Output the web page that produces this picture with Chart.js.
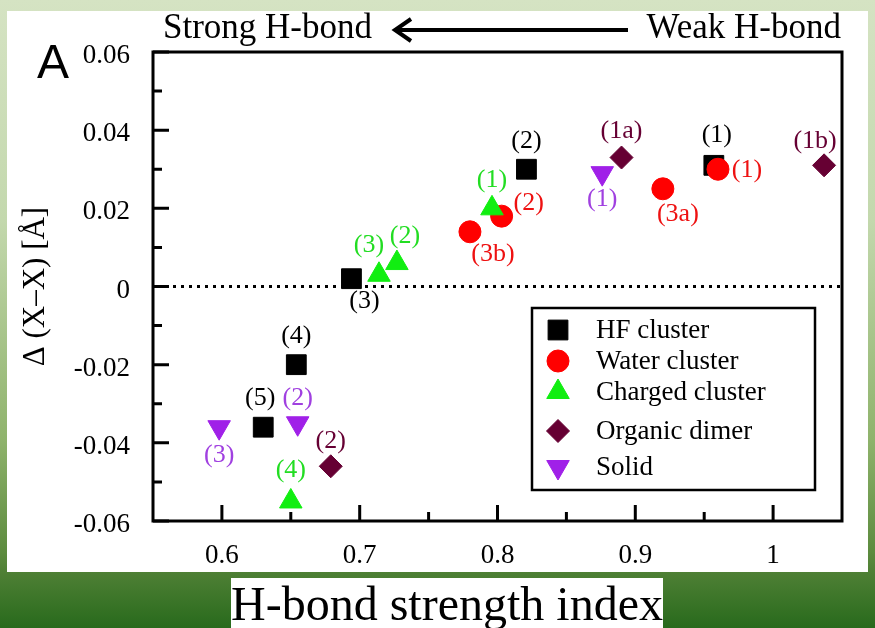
<!DOCTYPE html>
<html>
<head>
<meta charset="utf-8">
<script src="https://cdn.jsdelivr.net/npm/chart.js@4.4.1/dist/chart.umd.min.js"></script>
<style>
  html, body { margin: 0; padding: 0; }
  body {
    width: 875px; height: 628px; overflow: hidden; position: relative;
    background: linear-gradient(to bottom, #d5e3c3 0%, #c3d8ad 35%, #8fb36c 70%, #5c8b3e 88%, #4f8035 91%, #286a1c 100%);
  }
  #panel { position: absolute; left: 7px; top: 11px; width: 861px; height: 561px; background: #fff; }
  #wrap { position: absolute; left: 0; top: 0; width: 875px; height: 628px; }
  #xtitle {
    position: absolute; left: 231px; top: 578px; width: 432px; height: 50px;
    background: #fff; color: #000; text-align: center; white-space: nowrap;
    font: 48px "Liberation Serif", serif; line-height: 52px;
  }
</style>
</head>
<body>
<div id="panel"></div>
<div id="wrap"><canvas id="chart"></canvas></div>
<div id="xtitle">H-bond strength index</div>
<script>
// values
const hfX = [0.957, 0.821, 0.694, 0.654, 0.630];
const hfY = [0.031, 0.030, 0.002, -0.020, -0.036];
const hfLabels = ['(1)', '(2)', '(3)', '(4)', '(5)'];

const waterX = [0.960, 0.803, 0.920, 0.780];
const waterY = [0.030, 0.018, 0.025, 0.014];
const waterLabels = ['(1)', '(2)', '(3a)', '(3b)'];

const chargedX = [0.796, 0.727, 0.714, 0.650];
const chargedY = [0.020, 0.006, 0.003, -0.055];
const chargedLabels = ['(1)', '(2)', '(3)', '(4)'];

const organicX = [0.890, 1.037, 0.679];
const organicY = [0.033, 0.031, -0.046];
const organicLabels = ['(1a)', '(1b)', '(2)'];

const solidX = [0.876, 0.655, 0.598];
const solidY = [0.029, -0.035, -0.036];
const solidLabels = ['(1)', '(2)', '(3)'];

const seriesNames = ['HF cluster', 'Water cluster', 'Charged cluster', 'Organic dimer', 'Solid'];

const xTicks = [0.6, 0.7, 0.8, 0.9, 1.0];
const xTickLabels = ['0.6', '0.7', '0.8', '0.9', '1'];
const xMinorTicks = [0.65, 0.75, 0.85, 0.95];
const yTicks = [0.06, 0.04, 0.02, 0, -0.02, -0.04, -0.06];
const yTickLabels = ['0.06', '0.04', '0.02', '0', '-0.02', '-0.04', '-0.06'];
const yMinorTicks = [0.05, 0.03, 0.01, -0.01, -0.03, -0.05];

// where each point label sits relative to its marker (px)
const labelOffsets = [
  [[3, -28], [0, -26], [13, 24], [0, -26], [-3, -27]],
  [[29, 3], [27, -11], [15, 27], [23, 24]],
  [[0, -26], [8, -25], [-10, -28], [0, -29]],
  [[0, -24], [-9, -22], [0, -23]],
  [[0, 28], [0, -23], [0, 30]]
];
const pointLabels = [hfLabels, waterLabels, chargedLabels, organicLabels, solidLabels];
const labelColors = ['#000000', '#ee1111', '#22dd22', '#660033', '#a040e0'];

const SERIF = '"Liberation Serif", "Times New Roman", serif';

function toPoints(xs, ys) {
  return xs.map((x, i) => ({ x: x, y: ys[i] }));
}

function mkSet(label, xs, ys, color, style, radius, rotation, order) {
  return {
    label: label,
    data: toPoints(xs, ys),
    backgroundColor: color,
    borderColor: color,
    borderWidth: 1,
    pointStyle: style,
    pointRadius: radius,
    pointRotation: rotation,
    order: order
  };
}

// frame, inward ticks, dotted zero line, header, point labels, legend
const decorPlugin = {
  id: 'decor',
  beforeDatasetsDraw(chart) {
    const { ctx, chartArea: a, scales } = chart;
    const y0 = scales.y.getPixelForValue(0);
    ctx.save();
    ctx.strokeStyle = '#000';
    ctx.lineWidth = 3;
    ctx.setLineDash([3, 5]);
    ctx.beginPath();
    ctx.moveTo(a.left + 4, y0);
    ctx.lineTo(a.right, y0);
    ctx.stroke();
    ctx.restore();
  },
  afterDatasetsDraw(chart) {
    const { ctx, chartArea: a, scales } = chart;
    ctx.save();
    ctx.strokeStyle = '#000';
    ctx.lineWidth = 3;
    ctx.beginPath();
    xTicks.forEach(v => {
      const px = scales.x.getPixelForValue(v);
      ctx.moveTo(px, a.bottom); ctx.lineTo(px, a.bottom - 16);
    });
    xMinorTicks.forEach(v => {
      const px = scales.x.getPixelForValue(v);
      ctx.moveTo(px, a.bottom); ctx.lineTo(px, a.bottom - 9);
    });
    yTicks.forEach(v => {
      const py = scales.y.getPixelForValue(v);
      ctx.moveTo(a.left, py); ctx.lineTo(a.left + 16, py);
    });
    yMinorTicks.forEach(v => {
      const py = scales.y.getPixelForValue(v);
      ctx.moveTo(a.left, py); ctx.lineTo(a.left + 9, py);
    });
    ctx.stroke();
    ctx.strokeRect(a.left, a.top, a.right - a.left, a.bottom - a.top);

    // point labels
    ctx.font = '26px ' + SERIF;
    ctx.textAlign = 'center';
    ctx.textBaseline = 'middle';
    chart.data.datasets.forEach((ds, di) => {
      const meta = chart.getDatasetMeta(di);
      meta.data.forEach((pt, j) => {
        const off = labelOffsets[di][j];
        ctx.fillStyle = labelColors[di];
        ctx.fillText(pointLabels[di][j], pt.x + off[0], pt.y + off[1] - 2);
      });
    });
    ctx.restore();
  },
  afterDraw(chart) {
    const { ctx } = chart;
    ctx.save();
    // panel letter
    ctx.fillStyle = '#000';
    ctx.font = '48px "Liberation Sans", Arial, sans-serif';
    ctx.textBaseline = 'alphabetic';
    ctx.textAlign = 'left';
    ctx.fillText('A', 37, 78);

    // header with arrow
    ctx.font = '35px ' + SERIF;
    ctx.fillText('Strong H-bond', 163, 38);
    ctx.textAlign = 'right';
    ctx.fillText('Weak H-bond', 841, 38);
    ctx.strokeStyle = '#000';
    ctx.lineWidth = 4;
    ctx.beginPath();
    ctx.moveTo(397, 30); ctx.lineTo(628, 30);
    ctx.stroke();
    ctx.beginPath();
    ctx.moveTo(411, 19); ctx.lineTo(395, 30); ctx.lineTo(411, 41);
    ctx.stroke();

    // legend box
    const bx = 532, by = 308, bw = 283, bh = 182;
    ctx.fillStyle = '#fff';
    ctx.fillRect(bx, by, bw, bh);
    ctx.lineWidth = 2.5;
    ctx.strokeRect(bx, by, bw, bh);
    const rows = [330, 361, 392, 431, 467];
    ctx.font = '27px ' + SERIF;
    ctx.textAlign = 'left';
    ctx.textBaseline = 'middle';
    chart.data.datasets.forEach((ds, i) => {
      const y = rows[i];
      ctx.fillStyle = ds.backgroundColor;
      ctx.strokeStyle = ds.borderColor;
      ctx.lineWidth = 1;
      Chart.helpers.drawPoint(ctx, {
        pointStyle: ds.pointStyle,
        radius: ds.pointRadius,
        rotation: ds.pointRotation,
        borderWidth: 1
      }, 558, y);
      ctx.fillStyle = '#000';
      ctx.fillText(ds.label, 596, y + 1);
    });
    ctx.restore();
  }
};

new Chart(document.getElementById('chart'), {
  type: 'scatter',
  data: {
    datasets: [
      mkSet(seriesNames[0], hfX, hfY, '#000000', 'rect', 14, 0, 5),
      mkSet(seriesNames[1], waterX, waterY, '#ff0000', 'circle', 11, 0, 4),
      mkSet(seriesNames[2], chargedX, chargedY, '#11ee11', 'triangle', 13, 0, 3),
      mkSet(seriesNames[3], organicX, organicY, '#660033', 'rectRot', 11.5, 0, 2),
      mkSet(seriesNames[4], solidX, solidY, '#a020e8', 'triangle', 13, 180, 1)
    ]
  },
  options: {
    responsive: true,
    maintainAspectRatio: false,
    animation: false,
    events: [],
    layout: { padding: { left: 0, top: 52, right: 33, bottom: 0 } },
    plugins: {
      legend: { display: false },
      tooltip: { enabled: false }
    },
    scales: {
      x: {
        type: 'linear',
        min: 0.55,
        max: 1.05,
        afterBuildTicks: s => { s.ticks = xTicks.map(v => ({ value: v })); },
        afterFit: s => { s.height = 107; },
        grid: { display: false },
        border: { display: false },
        ticks: {
          autoSkip: false,
          maxRotation: 0,
          padding: 11,
          color: '#000',
          font: { family: SERIF, size: 27 },
          callback: (v, i) => xTickLabels[i]
        }
      },
      y: {
        type: 'linear',
        min: -0.06,
        max: 0.06,
        afterBuildTicks: s => { s.ticks = yTicks.map(v => ({ value: v })); },
        afterFit: s => { s.width = 153; },
        grid: { display: false },
        border: { display: false },
        title: {
          display: true,
          text: 'Δ (X–X) [Å]',
          color: '#000',
          font: { family: SERIF, size: 31 },
          padding: { top: 17, bottom: 0 }
        },
        ticks: {
          autoSkip: false,
          padding: 15,
          labelOffset: 4,
          color: '#000',
          font: { family: SERIF, size: 27 },
          callback: (v, i) => yTickLabels[i]
        }
      }
    }
  },
  plugins: [decorPlugin]
});
</script>
</body>
</html>
